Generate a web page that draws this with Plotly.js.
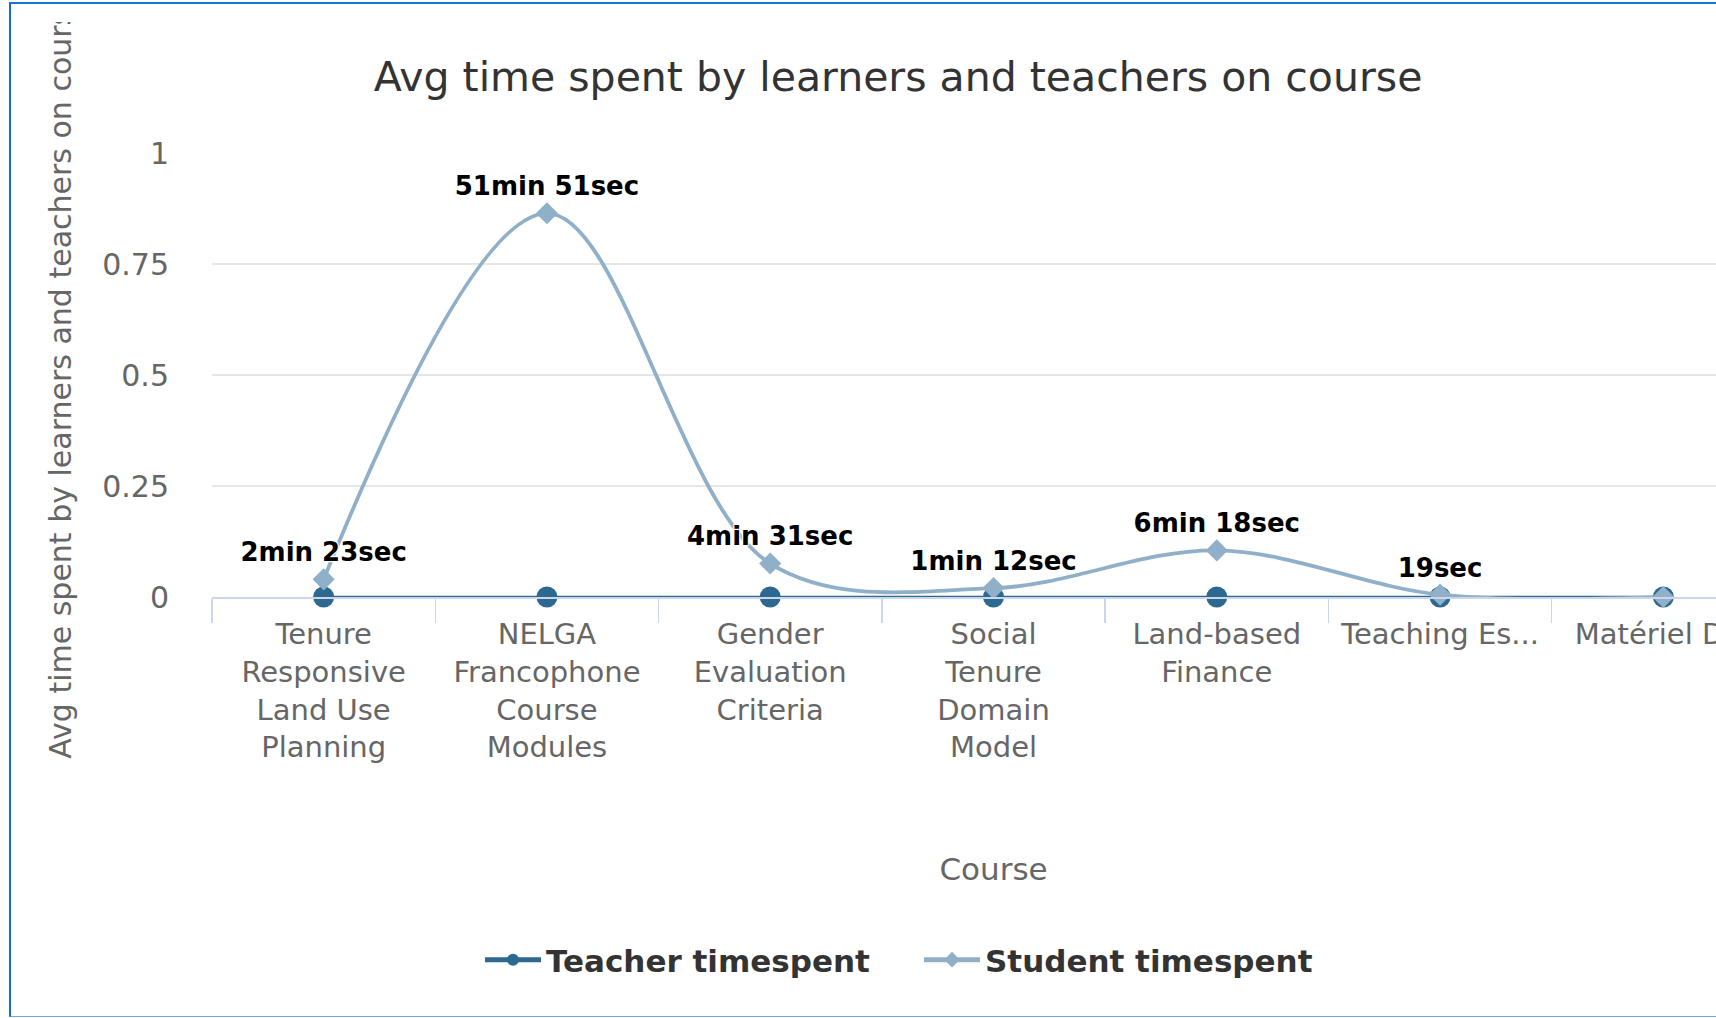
<!DOCTYPE html>
<html>
<head>
<meta charset="utf-8">
<script src="https://cdn.plot.ly/plotly-3.0.1.min.js"></script>
<style>
  html, body { margin: 0; padding: 0; overflow: hidden; background: #ffffff; width: 1716px; height: 1018px; }
  #chart { position: absolute; left: 0; top: 22px; width: 1796px; height: 996px; }
  #frame { position: absolute; left: 9px; top: 2px; width: 1800px; height: 1012px;
           border-left: 2px solid #0f6fcc; border-top: 2px solid #1a76d0; border-bottom: 1px solid #6fa6d6;
           pointer-events: none; z-index: 10; }
</style>
</head>
<body>
<div id="chart"></div>
<div id="frame"></div>
<script>
// ---- data ----
const categories = [
  "Tenure Responsive Land Use Planning",
  "NELGA Francophone Course Modules",
  "Gender Evaluation Criteria",
  "Social Tenure Domain Model",
  "Land-based Finance",
  "Teaching Es...",
  "Matériel D..."
];
const tickLabels = [
  "Tenure<br>Responsive<br>Land Use<br>Planning",
  "NELGA<br>Francophone<br>Course<br>Modules",
  "Gender<br>Evaluation<br>Criteria",
  "Social<br>Tenure<br>Domain<br>Model",
  "Land-based<br>Finance",
  "Teaching Es...",
  "Matériel D..."
];
// average time in hours
const teacherHours = [0, 0, 0, 0, 0, 0, 0];
const studentHours = [0.0397, 0.8642, 0.0753, 0.02, 0.105, 0.0053, 0];
const studentLabels = ["2min 23sec", "51min 51sec", "4min 31sec", "1min 12sec", "6min 18sec", "19sec", ""];
const yTicks = [0, 0.25, 0.5, 0.75, 1];
const yTickText = ["0", "0.25", "0.5", "0.75", "1"];

const FONT = "DejaVu Sans, Verdana, sans-serif";

const teacher = {
  type: "scatter",
  mode: "lines+markers",
  name: "Teacher timespent",
  x: categories,
  y: teacherHours,
  line: { color: "#2d6890", width: 2.5, shape: "spline" },
  marker: { color: "#2d6890", size: 21, symbol: "circle" },
  cliponaxis: false,
  hoverinfo: "x+y"
};

const student = {
  type: "scatter",
  mode: "lines+markers+text",
  name: "Student timespent",
  x: categories,
  y: studentHours,
  text: studentLabels,
  textposition: "top center",
  textfont: { family: FONT, size: 26, color: "#000000", weight: "bold",
              shadow: "1px 1px 1px #fff, -1px -1px 1px #fff, 1px -1px 1px #fff, -1px 1px 1px #fff" },
  line: { color: "#8fb0c8", width: 3.8, shape: "spline", smoothing: 1 },
  marker: { color: "#8fb0c8", size: 17, symbol: "diamond" },
  cliponaxis: false,
  hoverinfo: "x+y"
};

const layout = {
  width: 1796,
  height: 996,
  margin: { l: 212, r: 21, t: 131, b: 421, pad: 0 },
  paper_bgcolor: "#ffffff",
  plot_bgcolor: "#ffffff",
  font: { family: FONT, color: "#666666" },
  title: {
    text: "Avg time spent by learners and teachers on course",
    font: { family: FONT, size: 41, color: "#333333" },
    xref: "container", x: 0.5, xanchor: "center",
    yref: "container", y: 1 - 55 / 996, yanchor: "middle"
  },
  xaxis: {
    type: "category",
    range: [-0.5, 6.5],
    tickvals: categories,
    ticktext: tickLabels,
    tickson: "boundaries",
    ticks: "outside",
    ticklen: 24,
    tickwidth: 1.5,
    tickcolor: "#ccd6eb",
    ticklabelstandoff: 11,
    showline: true,
    linecolor: "#ccd6eb",
    linewidth: 1.5,
    showgrid: false,
    zeroline: false,
    tickfont: { family: FONT, size: 29, color: "#666666" },
    title: { text: "Course", font: { family: FONT, size: 31, color: "#666666" }, standoff: 95 }
  },
  yaxis: {
    range: [0, 1],
    tickvals: yTicks,
    ticktext: yTickText,
    showgrid: true,
    gridcolor: "#e6e6e6",
    gridwidth: 1.5,
    zeroline: false,
    showline: false,
    ticks: "",
    ticklabelstandoff: 42,
    tickfont: { family: FONT, size: 30, color: "#666666" },
    title: { text: "Avg time spent by learners and teachers on course",
             font: { family: FONT, size: 30, color: "#666666" }, standoff: 21 }
  },
  showlegend: true,
  legend: {
    orientation: "h",
    xref: "container", x: 0.5117, xanchor: "center",
    yref: "container", y: 1 - 938 / 996, yanchor: "middle",
    font: { family: FONT, size: 31, color: "#333333", weight: "bold" },
    itemsizing: "constant",
    itemwidth: 56,
    entrywidth: 368,
    bgcolor: "rgba(0,0,0,0)"
  }
};

Plotly.newPlot("chart", [teacher, student], layout, { displayModeBar: false, staticPlot: true });
</script>
</body>
</html>
